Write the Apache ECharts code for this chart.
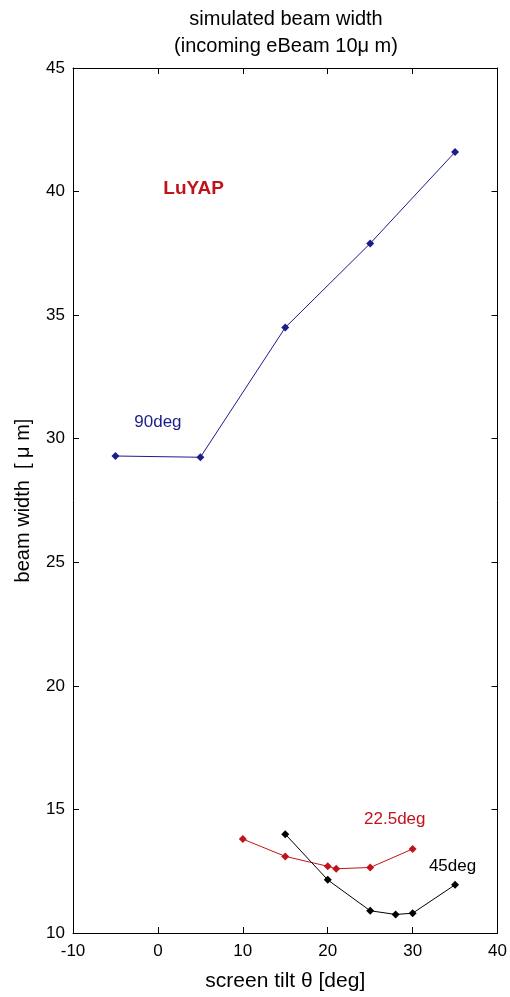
<!DOCTYPE html>
<html>
<head>
<meta charset="utf-8">
<script src="https://cdn.jsdelivr.net/npm/echarts@6/dist/echarts.min.js"></script>
<style>html,body{margin:0;padding:0;background:#fff;overflow:hidden;width:100%;height:100%}#c{width:100vw;height:100vh}</style>
</head>
<body>
<div id="c"></div>
<script>
// data
const blue90 = [[-5, 29.3], [5, 29.25], [15, 34.5], [25, 37.9], [35, 41.6]];
const red225 = [[10, 13.8], [15, 13.1], [20, 12.7], [21, 12.6], [25, 12.65], [30, 13.4]];
const black45 = [[15, 14.0], [20, 12.15], [25, 10.9], [28, 10.75], [30, 10.8], [35, 11.95]];
const xTicks = [-10, 0, 10, 20, 30, 40];
const yTicks = [10, 15, 20, 25, 30, 35, 40, 45];
const annotations = [
  {text: 'LuYAP', x: 4.2, y: 40.1, color: '#c0141c', bold: true, size: 19},
  {text: '90deg', x: 0.0, y: 30.65, color: '#1c1c8c', bold: false, size: 17},
  {text: '22.5deg', x: 27.9, y: 14.6, color: '#c0141c', bold: false, size: 17},
  {text: '45deg', x: 34.7, y: 12.7, color: '#000000', bold: false, size: 17}
];

const font = 'Liberation Sans, Arial, sans-serif';
const chart = echarts.init(document.getElementById('c'));
const axisCommon = {
  type: 'value', min: xTicks[0], max: xTicks[xTicks.length - 1], interval: 10,
  axisLine: {show: true, onZero: false, lineStyle: {color: '#000', width: 1}},
  axisTick: {show: true, inside: true, length: 6, lineStyle: {color: '#000'}},
  splitLine: {show: false}
};
const yCommon = {
  type: 'value', min: yTicks[0], max: yTicks[yTicks.length - 1], interval: 5,
  axisLine: {show: true, onZero: false, lineStyle: {color: '#000', width: 1}},
  axisTick: {show: true, inside: true, length: 6, lineStyle: {color: '#000'}},
  splitLine: {show: false}
};
function mk(data, color) {
  return {
    type: 'line', data: data, color: color, xAxisIndex: 0, yAxisIndex: 0,
    symbol: 'diamond', symbolSize: 8,
    lineStyle: {color: color, width: 1},
    itemStyle: {color: color},
    animation: false
  };
}
chart.setOption({
  animation: false,
  backgroundColor: '#fff',
  grid: {left: 73, right: 9, top: 68, bottom: 60, containLabel: false},
  xAxis: [
    Object.assign({}, axisCommon, {
      position: 'bottom',
      axisLabel: {show: true, color: '#000', fontSize: 17, fontFamily: font, margin: 10},
      name: 'screen tilt θ [deg]', nameLocation: 'middle', nameGap: 38,
      nameTextStyle: {color: '#000', fontSize: 21, fontFamily: font}
    }),
    Object.assign({}, axisCommon, {position: 'top', axisLabel: {show: false}})
  ],
  yAxis: [
    Object.assign({}, yCommon, {
      position: 'left',
      axisLabel: {show: true, color: '#000', fontSize: 17, fontFamily: font, margin: 8},
      name: 'beam width  [ μ m]', nameLocation: 'middle', nameGap: 40, nameRotate: 90,
      nameTextStyle: {color: '#000', fontSize: 20, fontFamily: font}
    }),
    Object.assign({}, yCommon, {position: 'right', axisLabel: {show: false}})
  ],
  graphic: [
    {type: 'text', x: 286, y: 6, style: {
      text: 'simulated beam width\n(incoming eBeam 10μ m)', textAlign: 'center',
      font: '20px ' + font, fill: '#000', lineHeight: 27}}
  ],
  series: [
    mk(blue90, '#1c1c8c'),
    mk(red225, '#c0141c'),
    mk(black45, '#000000'),
    {
      type: 'scatter', symbolSize: 0, silent: true, itemStyle: {opacity: 1},
      data: annotations.map(a => ({
        value: [a.x, a.y],
        label: {show: true, position: 'inside', formatter: a.text, color: a.color, opacity: 1,
          fontSize: a.size, fontWeight: a.bold ? 'bold' : 'normal', fontFamily: font}
      }))
    }
  ]
});
window.addEventListener('resize', () => chart.resize());
</script>
</body>
</html>
